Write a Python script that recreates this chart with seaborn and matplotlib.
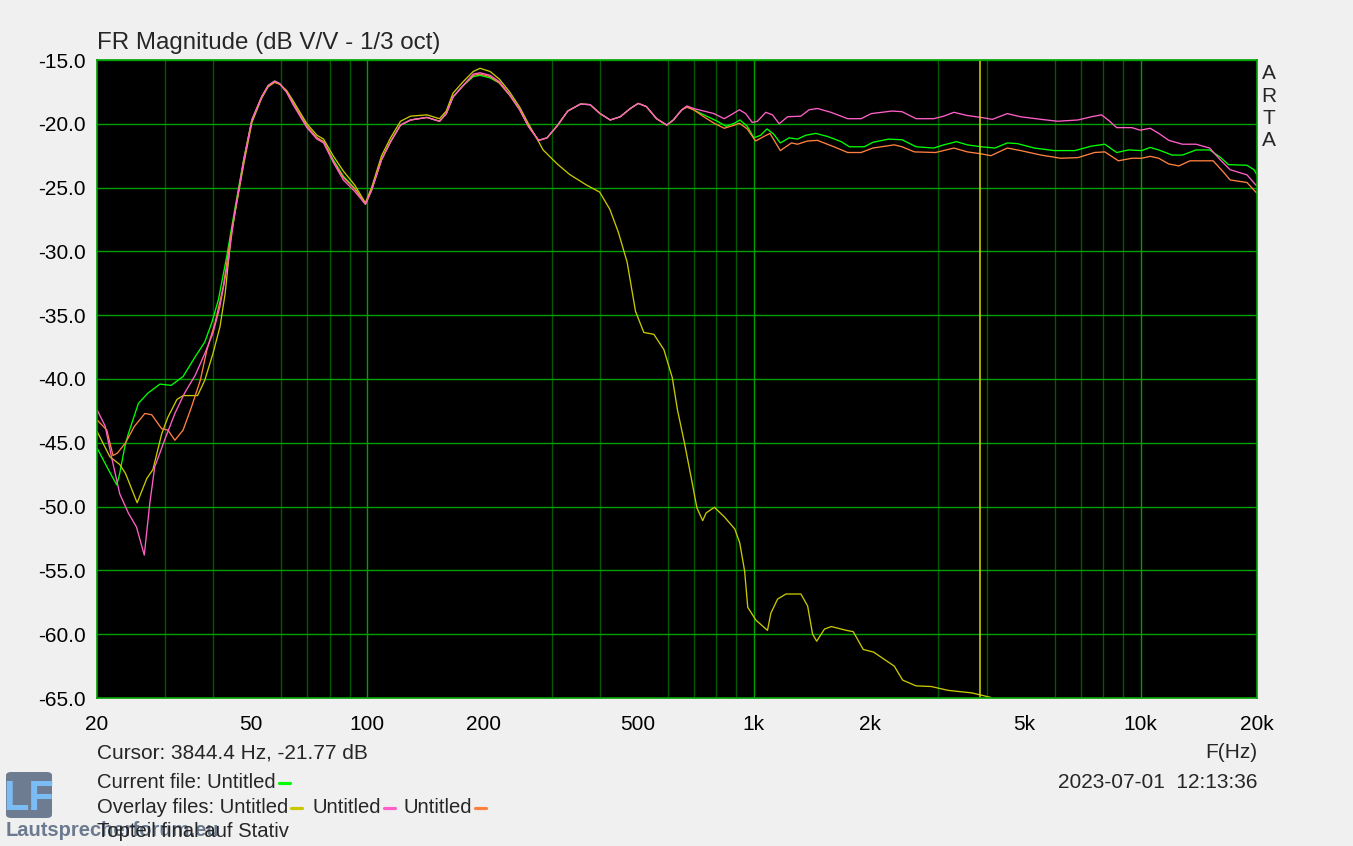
import matplotlib
matplotlib.use('Agg')
import matplotlib.pyplot as plt
from matplotlib.lines import Line2D
from matplotlib.patches import FancyBboxPatch
from matplotlib.ticker import LogLocator, NullFormatter
import numpy as np
import pandas as pd
import seaborn as sns

# ---- data (Hz, dB) ----
green_low_f = [20, 21.4, 22.5, 22.9, 23.6, 24.1, 25.6, 27.1, 29.1, 31.1, 33.4, 35.9, 38.0, 39.6, 41.2, 43.3, 45.4, 47.9]
green_low_db = [-45.4, -47.1, -48.3, -47.4, -45.3, -44.3, -41.9, -41.1, -40.4, -40.5, -39.8, -38.25, -37.1, -35.6, -33.8, -30.4, -26.75, -22.8]

pink_low_f = [20, 21.0, 21.8, 22.9, 24.1, 25.3, 26.5, 27.4, 28.2, 29.9, 31.8, 33.7, 35.9, 38.0, 39.9, 41.6, 43.7, 45.4, 47.9]
pink_low_db = [-42.4, -43.7, -46.1, -49.0, -50.5, -51.6, -53.8, -49.7, -46.9, -44.8, -42.7, -41.1, -39.7, -38.0, -36.4, -34.3, -30.7, -27.0, -22.9]

orange_low_f = [20, 21.2, 22.0, 22.6, 23.7, 25.0, 26.6, 27.7, 29.4, 30.5, 31.8, 33.4, 35.1, 37.0, 38.5, 40.4, 42.4, 44.5, 47.9]
orange_low_db = [-43.2, -44.0, -46.0, -45.8, -45.0, -43.7, -42.7, -42.8, -43.9, -44.0, -44.8, -44.0, -42.2, -40.1, -37.7, -35.6, -32.8, -28.6, -22.9]

yellow_low_f = [20, 21.6, 22.9, 23.7, 25.4, 26.9, 27.9, 29.4, 30.5, 32.2, 33.4, 36.4, 38.0, 39.9, 41.6, 42.9, 44.5, 47.9]
yellow_low_db = [-44.1, -46.1, -46.7, -47.4, -49.7, -47.8, -47.1, -44.3, -43.0, -41.6, -41.3, -41.3, -40.1, -38.0, -35.9, -33.3, -28.6, -23.2]

mid_f = [50.3, 53.3, 55.4, 57.6, 59.4, 61.9, 64.3, 69.8, 74.1, 77.1, 81.6, 86.7, 92.8, 98.9, 102.6, 108.9, 114.9,
         121.9, 129.4, 142.6, 153.8, 160.1, 166.6, 177.0, 188.0, 195.7, 207.8, 219.6, 233.4, 247.9, 261.1,
         277.4, 291.7, 310, 330, 356, 377, 400, 425, 451, 479, 502, 527, 560, 595, 619, 651, 671]
green_mid = [-19.7, -17.9, -17.0, -16.65, -16.85, -17.5, -18.4, -20.2, -21.1, -21.4, -22.8, -24.1, -25.05, -26.3, -25.2, -22.8, -21.4,
             -20.1, -19.7, -19.5, -19.8, -19.2, -17.9, -17.0, -16.3, -16.2, -16.4, -16.8, -17.75, -18.9, -20.2,
             -21.3, -21.1, -20.15, -19.0, -18.45, -18.5, -19.2, -19.7, -19.45, -18.8, -18.4, -18.65, -19.6, -20.1, -19.7, -18.9, -18.65]
pink_mid = [-19.7, -17.9, -17.0, -16.65, -16.85, -17.55, -18.5, -20.3, -21.2, -21.5, -23.0, -24.4, -25.3, -26.3, -25.2, -22.8, -21.4,
            -20.1, -19.7, -19.5, -19.8, -19.2, -17.9, -17.0, -16.1, -16.0, -16.2, -16.7, -17.7, -18.9, -20.2,
            -21.3, -21.1, -20.15, -19.0, -18.45, -18.5, -19.2, -19.7, -19.45, -18.8, -18.4, -18.65, -19.6, -20.1, -19.7, -18.9, -18.6]
orange_mid = [-19.7, -17.9, -17.05, -16.7, -16.9, -17.5, -18.4, -20.2, -21.1, -21.4, -22.9, -24.2, -25.1, -26.3, -25.2, -22.8, -21.4,
              -20.1, -19.7, -19.5, -19.8, -19.2, -17.9, -17.0, -16.2, -16.1, -16.3, -16.8, -17.75, -18.9, -20.2,
              -21.3, -21.1, -20.15, -19.0, -18.45, -18.5, -19.2, -19.7, -19.45, -18.8, -18.4, -18.65, -19.6, -20.1, -19.7, -18.9, -18.7]
yellow_mid = [-19.9, -18.0, -17.1, -16.75, -16.9, -17.4, -18.2, -20.0, -20.9, -21.2, -22.5, -23.7, -24.8, -26.2, -25.0, -22.5, -21.1,
              -19.8, -19.4, -19.3, -19.6, -19.0, -17.6, -16.7, -15.9, -15.65, -15.9, -16.5, -17.5, -18.7, -20.0, -21.4]

green_high_f = [698, 742, 804, 847, 891, 920, 961, 1000, 1040, 1081, 1124, 1170, 1234, 1296, 1361, 1445, 1552, 1682,
                1765, 1930, 2030, 2230, 2415, 2626, 2917, 3098, 3340, 3563, 3864, 4200, 4522, 4800, 5310, 5980, 6760,
                7458, 8080, 8672, 9300, 10070, 10590, 11140, 12060, 12830, 13910, 15090, 16040, 16870, 18840, 19650, 20000]
green_high_db = [-18.9, -19.3, -19.8, -20.2, -19.95, -19.7, -20.2, -21.1, -20.9, -20.4, -20.8, -21.5, -21.1, -21.2, -20.9,
                 -20.75, -21.0, -21.4, -21.8, -21.8, -21.45, -21.2, -21.25, -21.8, -21.9, -21.65, -21.4, -21.65, -21.8,
                 -21.9, -21.5, -21.55, -21.9, -22.1, -22.1, -21.75, -21.6, -22.25, -22.05, -22.1, -21.85, -22.05, -22.45,
                 -22.45, -22.05, -22.05, -22.6, -23.2, -23.25, -23.6, -24.0]

pink_high_f = [698, 742, 788, 838, 872, 917, 952, 990, 1021, 1073, 1117, 1162, 1222, 1322, 1389, 1460, 1582, 1748, 1893,
               2012, 2275, 2415, 2626, 2917, 3098, 3289, 3563, 3864, 4137, 4522, 4896, 5524, 6100, 6885, 7458, 7923,
               8245, 8672, 9490, 9975, 10590, 11140, 11830, 12830, 13910, 15090, 16040, 17040, 18840, 20000]
pink_high_db = [-18.8, -19.0, -19.2, -19.6, -19.3, -18.9, -19.2, -19.9, -19.8, -19.1, -19.3, -20.0, -19.45, -19.4, -18.9,
                -18.8, -19.1, -19.6, -19.6, -19.2, -19.0, -19.05, -19.6, -19.6, -19.4, -19.1, -19.35, -19.5, -19.65,
                -19.2, -19.45, -19.65, -19.8, -19.7, -19.45, -19.3, -19.7, -20.3, -20.3, -20.5, -20.35, -20.75, -21.3,
                -21.6, -21.6, -21.9, -22.8, -23.6, -24.0, -24.9]

orange_high_f = [698, 742, 788, 838, 891, 917, 961, 1010, 1060, 1100, 1170, 1250, 1296, 1375, 1460, 1610, 1748, 1893,
                 2030, 2306, 2415, 2600, 2950, 3290, 3563, 3864, 4100, 4522, 4896, 5524, 6215, 6885, 7600, 8080, 8760,
                 9490, 10070, 10590, 11140, 11830, 12560, 13420, 15400, 16340, 17040, 18840, 20000]
orange_high_db = [-18.9, -19.45, -19.95, -20.35, -20.1, -19.95, -20.4, -21.35, -21.0, -20.75, -22.1, -21.5, -21.6, -21.35,
                  -21.3, -21.8, -22.25, -22.25, -21.9, -21.65, -21.8, -22.2, -22.25, -21.9, -22.2, -22.35, -22.5, -21.9,
                  -22.1, -22.45, -22.7, -22.65, -22.25, -22.2, -22.9, -22.7, -22.7, -22.55, -22.7, -23.15, -23.3, -22.9,
                  -22.9, -23.75, -24.4, -24.6, -25.45]

yellow_high_f = [285, 310, 334, 369, 399, 424, 446, 470, 494, 519, 551, 585, 615, 634, 660, 687, 712, 737, 752, 790,
                 838, 892, 919, 946, 964, 1012, 1084, 1106, 1151, 1210, 1323, 1377, 1418, 1453, 1522, 1585, 1735, 1806,
                 1918, 2039, 2306, 2425, 2626, 2874, 3176, 3660, 4093, 4400]
yellow_high_db = [-22.05, -23.15, -23.98, -24.8, -25.35, -26.7, -28.5, -30.85, -34.7, -36.35, -36.5, -37.7, -39.9, -42.4,
                  -44.9, -47.6, -50.1, -51.1, -50.5, -50.05, -50.8, -51.75, -52.85, -55.05, -57.9, -58.9, -59.7, -58.35,
                  -57.25, -56.85, -56.85, -57.8, -60.0, -60.55, -59.6, -59.4, -59.7, -59.8, -61.2, -61.4, -62.5, -63.6,
                  -64.05, -64.1, -64.4, -64.6, -64.95, -65.5]

x_ticks = [20, 50, 100, 200, 500, 1000, 2000, 5000, 10000, 20000]
x_labels = ['20', '50', '100', '200', '500', '1k', '2k', '5k', '10k', '20k']
y_ticks = [-15, -20, -25, -30, -35, -40, -45, -50, -55, -60, -65]
cursor_f = 3844.4

traces = {
    'green': (green_low_f + mid_f + green_high_f, green_low_db + green_mid + green_high_db),
    'yellow': (yellow_low_f + mid_f[:32] + yellow_high_f, yellow_low_db + yellow_mid + yellow_high_db),
    'orange': (orange_low_f + mid_f + orange_high_f, orange_low_db + orange_mid + orange_high_db),
    'pink': (pink_low_f + mid_f + pink_high_f, pink_low_db + pink_mid + pink_high_db),
}
rows = []
for name, (fs, dbs) in traces.items():
    for f, d in zip(fs, dbs):
        rows.append({'f': f, 'db': d, 'trace': name})
df = pd.DataFrame(rows)

colors = {'green': '#00ff00', 'yellow': '#c8c800', 'pink': '#ff5fc8', 'orange': '#ff8040'}

sns.set_style('white')
plt.rcParams['font.family'] = ['Liberation Sans', 'DejaVu Sans']

W, H = 1353, 846
fig = plt.figure(figsize=(W / 100, H / 100), dpi=100, facecolor='#f0f0f0')
ax = fig.add_axes([97 / W, 1 - 698 / H, 1160 / W, 638 / H])
ax.set_facecolor('black')
ax.set_xscale('log')
ax.set_xlim(20, 20000)
ax.set_ylim(-65, -15)

# grid: dark minor verticals, brighter decades and horizontals
ax.xaxis.set_minor_locator(LogLocator(base=10, subs=np.arange(2, 10)))
ax.xaxis.set_minor_formatter(NullFormatter())
ax.grid(which='minor', axis='x', color='#005a00', lw=1)
ax.grid(which='major', axis='y', color='#00a000', lw=1)
for dec in [100, 1000, 10000]:
    ax.axvline(dec, color='#00a000', lw=1, zorder=0.6)
ax.set_axisbelow(True)

sns.lineplot(data=df, x='f', y='db', hue='trace', hue_order=['green', 'yellow', 'orange', 'pink'],
             palette=colors, estimator=None, sort=False, legend=False, lw=0.95, ax=ax)
ax.axvline(cursor_f, color='#d8d800', lw=1.1)

ax.set_xticks(x_ticks)
ax.set_xticklabels(x_labels)
ax.set_yticks(y_ticks)
ax.set_yticklabels([f'{v:.1f}' for v in y_ticks])
ax.tick_params(axis='both', which='both', length=0, labelsize=15, colors='black')
ax.tick_params(axis='x', pad=12)
ax.tick_params(axis='y', pad=8)
ax.set_xlabel('')
ax.set_ylabel('')
for s in ax.spines.values():
    s.set_color('#00a000')
    s.set_linewidth(1.2)


def fx(px):
    return px / W


def fy(py):
    return 1 - py / H


fig.text(fx(97), fy(49), 'FR Magnitude (dB V/V - 1/3 oct)', fontsize=17.4, ha='left', va='baseline')
for letter, yb in zip('ARTA', [79, 101.5, 123.5, 145.5]):
    fig.text(fx(1269), fy(yb), letter, fontsize=15, ha='center', va='baseline')

fig.text(fx(97), fy(758), 'Cursor: 3844.4 Hz, -21.77 dB', fontsize=15, va='baseline')
fig.text(fx(1257), fy(758), 'F(Hz)', fontsize=15, ha='right', va='baseline')
fig.text(fx(1257), fy(788), '2023-07-01  12:13:36', fontsize=15, ha='right', va='baseline')

# watermark logo
fig.add_artist(FancyBboxPatch((fx(6), fy(818)), 46 / W, 46 / H, boxstyle='round,pad=0,rounding_size=0.004',
                              transform=fig.transFigure, facecolor='#607088', edgecolor='none', alpha=0.9, zorder=1))
fig.text(fx(29), fy(810), 'LF', fontsize=30, fontweight='bold', color='#7cbcf4', ha='center', va='baseline', zorder=2)
fig.text(fx(6), fy(836), 'Lautsprecherforum.eu', fontsize=14.5, fontweight='bold', color='#5d6d84', alpha=0.9,
         va='baseline', zorder=1)

renderer = fig.canvas.get_renderer()


def text_with_dash(x, yb, s, color):
    t = fig.text(fx(x), fy(yb), s, fontsize=14.6, va='baseline', zorder=3)
    bb = t.get_window_extent(renderer)
    x1 = bb.x1 + 3
    fig.add_artist(Line2D([fx(x1), fx(x1 + 11)], [fy(yb - 5)] * 2, color=color, lw=2.3,
                          transform=fig.transFigure))
    return x1 + 11


text_with_dash(97, 788, 'Current file: Untitled', colors['green'])
nx = text_with_dash(97, 812.5, 'Overlay files: Untitled', colors['yellow'])
nx = text_with_dash(nx + 10, 812.5, 'Untitled', colors['pink'])
text_with_dash(nx + 9, 812.5, 'Untitled', colors['orange'])
fig.text(fx(97), fy(836.5), 'Topteil final auf Stativ', fontsize=14.6, va='baseline', zorder=3)

fig.savefig('out.png', dpi=100, facecolor=fig.get_facecolor())
